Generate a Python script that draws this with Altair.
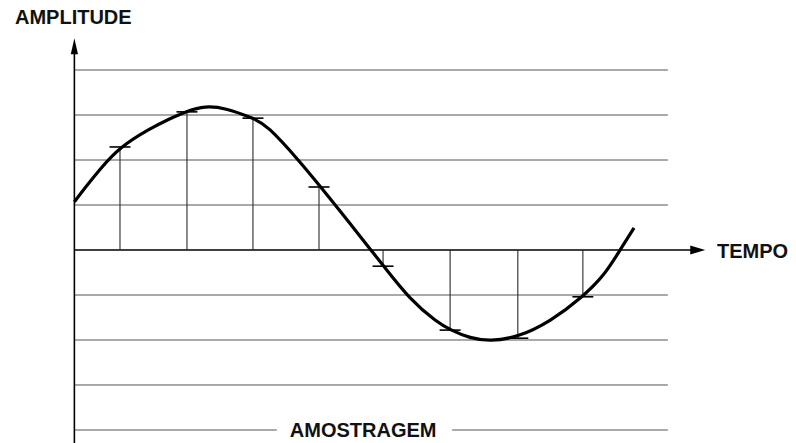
import altair as alt
import pandas as pd

# --- data ---
curve_t = [0.0, 0.16, 0.386, 0.687, 1.139, 1.44, 1.696, 1.967, 2.268, 2.69, 2.90,
           3.40, 3.70, 4.15, 4.45, 4.65, 5.06, 5.46, 5.67, 5.96, 6.26, 6.68,
           7.17, 7.66, 7.99, 8.22, 8.43]
curve_amp = [1.07, 1.38, 1.80, 2.29, 2.70, 2.92, 3.09, 3.20, 3.16, 2.93, 2.78,
             1.96, 1.42, 0.60, 0.03, -0.34, -1.11, -1.60, -1.78, -1.96, -2.03, -1.94,
             -1.59, -1.04, -0.55, 0.0, 0.49]

sample_t = [0.687, 1.696, 2.69, 3.685, 4.65, 5.66, 6.68, 7.66]
sample_amp = [2.29, 3.07, 2.93, 1.40, -0.36, -1.78, -1.96, -1.04]

grid_levels = [4, 3, 2, 1, -1, -2, -3, -4, -4]
grid_start = [0, 0, 0, 0, 0, 0, 0, 0, 5.69]
grid_end = [8.94, 8.94, 8.94, 8.94, 8.94, 8.94, 8.94, 3.05, 8.94]

labels = ["AMPLITUDE", "TEMPO", "AMOSTRAGEM"]

# --- frames ---
curve = pd.DataFrame({"t": curve_t, "a": curve_amp})
samples = pd.DataFrame({"t": sample_t, "a": sample_amp, "zero": [0] * len(sample_t)})
grid = pd.DataFrame({"level": grid_levels, "start": grid_start, "end": grid_end})

xs = alt.Scale(domain=[-1, 10.75], nice=False, zero=False)
ys = alt.Scale(domain=[-4.289, 5.378], nice=False, zero=False)

def X(field, **kw):
    return alt.X(field, type="quantitative", scale=xs, axis=None, **kw)

def Y(field, **kw):
    return alt.Y(field, type="quantitative", scale=ys, axis=None, **kw)

grid_layer = alt.Chart(grid).mark_rule(color="#555555", strokeWidth=1).encode(
    x=X("start"), x2="end", y=Y("level")
)

# axes with arrows
xaxis = alt.Chart(pd.DataFrame({"s": [0], "e": [9.36], "y": [0]})).mark_rule(
    color="black", strokeWidth=1.6
).encode(x=X("s"), x2="e", y=Y("y"))
yaxis = alt.Chart(pd.DataFrame({"x": [0], "s": [-4.289], "e": [4.45]})).mark_rule(
    color="black", strokeWidth=1.6
).encode(x=X("x"), y=Y("s"), y2="e")

x_arrow = alt.Chart(pd.DataFrame({"x": [9.39], "y": [0]})).mark_point(
    shape="M -1 -0.6 L 1 0 L -1 0.6 Z", filled=True, color="black", opacity=1, size=225
).encode(x=X("x"), y=Y("y"))
y_arrow = alt.Chart(pd.DataFrame({"x": [0], "y": [4.53]})).mark_point(
    shape="M 0 -1 L 0.45 1 L -0.45 1 Z", filled=True, color="black", opacity=1, size=256
).encode(x=X("x"), y=Y("y"))

sample_rules = alt.Chart(samples).mark_rule(color="#2a2a2a", strokeWidth=1.1).encode(
    x=X("t"), y=Y("zero"), y2="a"
)
sample_ticks = alt.Chart(samples).mark_point(
    shape="M -1 0 L 1 0", filled=False, color="black", opacity=1, size=441, strokeWidth=1.6
).encode(x=X("t"), y=Y("a"))

wave = alt.Chart(curve).mark_line(color="black", strokeWidth=3.2, interpolate="basis").encode(
    x=X("t"), y=Y("a"), order="t:Q"
)

text_left = alt.Chart(pd.DataFrame({
    "t": [-0.895, 9.68], "a": [5.03, -0.18], "label": labels[:2]
})).mark_text(align="left", baseline="alphabetic", font="Liberation Sans", fontSize=20,
              fontWeight="bold", color="#111111").encode(x=X("t"), y=Y("a"), text="label:N")
text_center = alt.Chart(pd.DataFrame({
    "t": [4.35], "a": [-4.16], "label": labels[2:]
})).mark_text(align="center", baseline="alphabetic", font="Liberation Sans", fontSize=20,
              fontWeight="bold", color="#111111").encode(x=X("t"), y=Y("a"), text="label:N")

chart = alt.layer(
    grid_layer, xaxis, yaxis, sample_rules, sample_ticks, wave, x_arrow, y_arrow,
    text_left, text_center
).properties(
    width=780, height=435, autosize=alt.AutoSizeParams(type="none"), padding=0,
    background="white"
).configure_view(stroke=None)

chart.save("out.html", embed_options={"renderer": "svg", "actions": False})
